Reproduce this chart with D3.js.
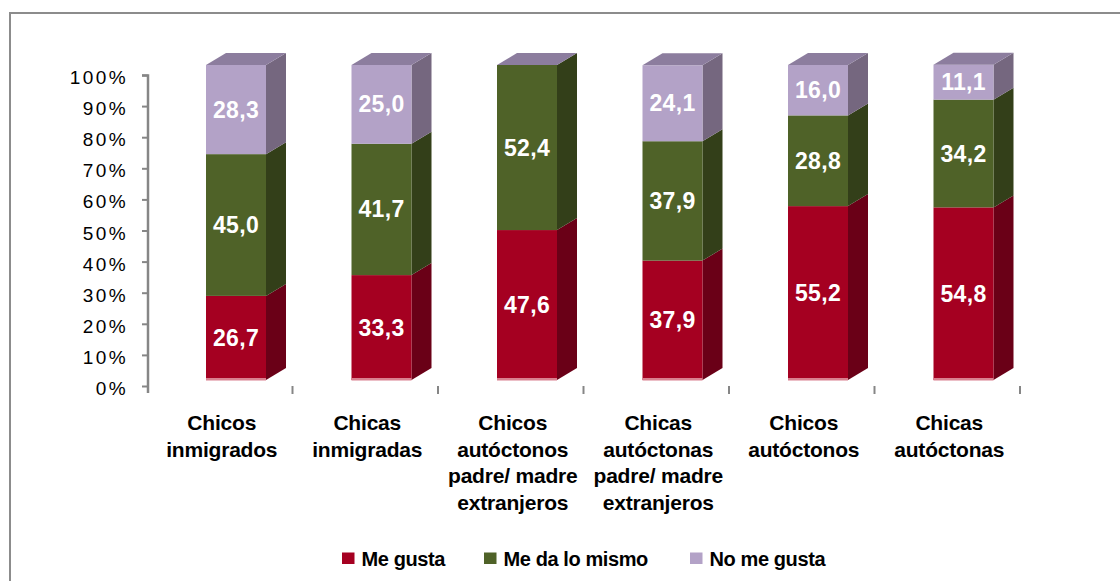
<!DOCTYPE html>
<html>
<head>
<meta charset="utf-8">
<script src="https://cdn.jsdelivr.net/npm/d3@7"></script>
<style>
  html, body { margin: 0; padding: 0; background: #fff; }
  svg { display: block; font-family: Arial, "Liberation Sans", sans-serif; }
</style>
</head>
<body>
<svg id="chart" width="1120" height="581"></svg>
<script>
// Categories (multi-line labels) and the three stacked series, in percent
const categories = [
  "Chicos inmigrados",
  "Chicas inmigradas",
  "Chicos autóctonos padre/ madre extranjeros",
  "Chicas autóctonas padre/ madre extranjeros",
  "Chicos autóctonos",
  "Chicas autóctonas"
];
const categoryLines = [
  ["Chicos", "inmigrados"],
  ["Chicas", "inmigradas"],
  ["Chicos", "autóctonos", "padre/ madre", "extranjeros"],
  ["Chicas", "autóctonas", "padre/ madre", "extranjeros"],
  ["Chicos", "autóctonos"],
  ["Chicas", "autóctonas"]
];
const seriesNames = ["Me gusta", "Me da lo mismo", "No me gusta"];
const meGusta     = [26.7, 33.3, 47.6, 37.9, 55.2, 54.8];
const meDaIgual   = [45.0, 41.7, 52.4, 37.9, 28.8, 34.2];
const noMeGusta   = [28.3, 25.0, 0,    24.1, 16.0, 11.1];
const yTicks = [0, 10, 20, 30, 40, 50, 60, 70, 80, 90, 100];

// Face colours: front, side, top
const palette = [
  { front: "#a50021", side: "#6a0017", top: "#7d0019" },
  { front: "#4f6228", side: "#333f19", top: "#3d4b1e" },
  { front: "#b3a2c7", side: "#75677f", top: "#8c7d9e" }
];

const svg = d3.select("#chart");

// Outer frame
svg.append("rect")
  .attr("x", 10).attr("y", 13).attr("width", 1300).attr("height", 800)
  .attr("fill", "none").attr("stroke", "#8c8c8c").attr("stroke-width", 2);

// Scales: the axis sits on the back wall, the bars' front faces are slightly larger
const x = d3.scaleBand().domain(categories).range([147, 1020]).paddingInner(0).paddingOuter(0);
const yAxisScale = d3.scaleLinear().domain([0, 100]).range([386, 75]);
const yFront = d3.scaleLinear().domain([0, 100]).range([380, 65]);

const depthX = 20, depthY = -12;
const frontOffset = 59, frontWidth = 60;

// Y axis
const yAxis = d3.axisLeft(yAxisScale).tickValues(yTicks).tickSize(6).tickPadding(14)
  .tickFormat(d => d + "%");
const gy = svg.append("g").attr("transform", "translate(148,0)").call(yAxis);
gy.select(".domain").attr("stroke", "#868686").attr("stroke-width", 2.5)
  .attr("d", "M-6,75.5H0V393");
gy.selectAll(".tick line").attr("stroke", "#868686").attr("stroke-width", 2);
gy.selectAll(".tick text")
  .attr("fill", "#000").attr("font-size", 19).attr("letter-spacing", "2.4px")
  .attr("font-family", "Arial, 'Liberation Sans', sans-serif")
  .attr("dy", "0.45em");

// Category tick marks along the floor
const tickXs = categories.map(c => x(c)).concat([x(categories[categories.length - 1]) + x.bandwidth()]);
svg.append("g").selectAll("line").data(tickXs.slice(1)).join("line")
  .attr("x1", d => d).attr("x2", d => d)
  .attr("y1", 386).attr("y2", 394)
  .attr("stroke", "#868686").attr("stroke-width", 2);

// Stacked 3D columns
const rows = categories.map((c, i) => ({ cat: c, s0: meGusta[i], s1: meDaIgual[i], s2: noMeGusta[i] }));
const stack = d3.stack().keys(["s0", "s1", "s2"]);
const stacked = stack(rows);

const bars = svg.append("g");
rows.forEach((row, i) => {
  const left = x(row.cat) + frontOffset;
  const right = left + frontWidth;
  stacked.forEach((layer, k) => {
    const [v0, v1] = layer[i];
    const yb = yFront(v0), yt = yFront(v1);
    const col = palette[k];
    // side face
    bars.append("path")
      .attr("d", `M${right},${yb}L${right + depthX},${yb + depthY}L${right + depthX},${yt + depthY}L${right},${yt}Z`)
      .attr("fill", col.side);
    // front face
    bars.append("rect")
      .attr("x", left).attr("y", yt).attr("width", frontWidth).attr("height", Math.max(0, yb - yt))
      .attr("fill", col.front);
  });
  // top face, coloured by the topmost series
  const total = stacked[stacked.length - 1][i][1];
  const yt = yFront(total);
  bars.append("path")
    .attr("d", `M${left},${yt}L${left + depthX},${yt + depthY}L${right + depthX},${yt + depthY}L${right},${yt}Z`)
    .attr("fill", palette[2].top);
  // lighter base edge
  bars.append("rect")
    .attr("x", left).attr("y", yFront(0) - 2).attr("width", frontWidth).attr("height", 2.5)
    .attr("fill", "#d9808f");
});

// Value labels
const fmt = v => v.toFixed(1).replace(".", ",");
const labels = svg.append("g");
rows.forEach((row, i) => {
  const cx = x(row.cat) + frontOffset + frontWidth / 2;
  stacked.forEach((layer, k) => {
    const [v0, v1] = layer[i];
    const v = v1 - v0;
    if (v <= 0) return;
    labels.append("text")
      .attr("x", cx).attr("y", (yFront(v0) + yFront(v1)) / 2)
      .attr("text-anchor", "middle").attr("dominant-baseline", "central")
      .attr("font-size", 23).attr("font-weight", "bold").attr("letter-spacing", "0.3px")
      .attr("fill", "#fff")
      .text(fmt(v));
  });
});

// Category labels
const cats = svg.append("g");
categoryLines.forEach((lines, i) => {
  const cx = x(categories[i]) + x.bandwidth() / 2 + 2;
  const t = cats.append("text")
    .attr("text-anchor", "middle").attr("font-size", 21).attr("font-weight", "bold")
    .attr("letter-spacing", "-0.2px").attr("fill", "#000");
  lines.forEach((ln, j) => {
    t.append("tspan").attr("x", cx).attr("y", 430 + j * 26.5).text(ln);
  });
});

// Legend
const legendX = [342, 484, 690];
const legend = svg.append("g");
seriesNames.forEach((name, k) => {
  legend.append("rect")
    .attr("x", legendX[k]).attr("y", 552.5).attr("width", 12.5).attr("height", 11.5)
    .attr("fill", palette[k].front);
  legend.append("text")
    .attr("x", legendX[k] + 19.5).attr("y", 559)
    .attr("dominant-baseline", "central")
    .attr("font-size", 20).attr("font-weight", "bold").attr("letter-spacing", "-0.4px")
    .attr("fill", "#000")
    .text(name);
});
</script>
</body>
</html>
